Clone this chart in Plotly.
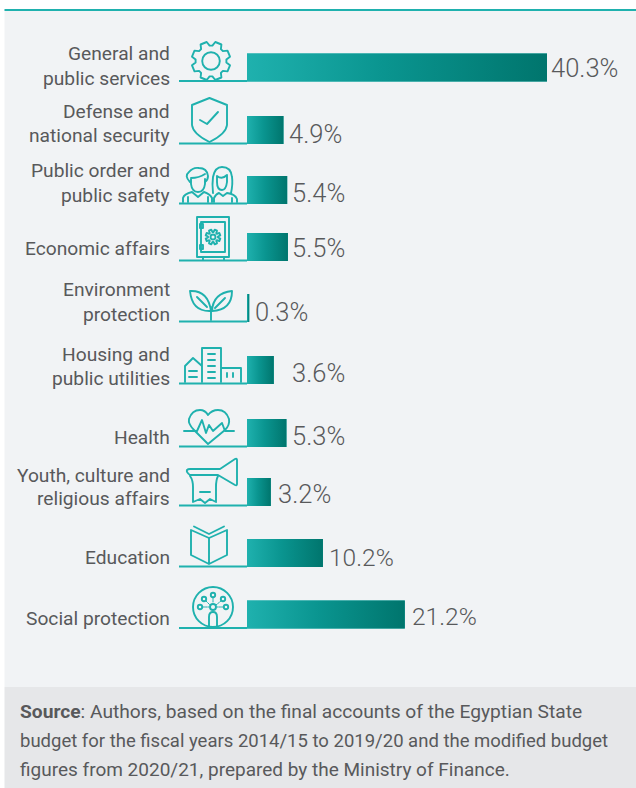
import base64
import math
import plotly.graph_objects as go

# ---------- data ----------
categories = ["General and<br>public services", "Defense and<br>national security",
              "Public order and<br>public safety", "Economic affairs",
              "Environment<br>protection", "Housing and<br>public utilities", "Health",
              "Youth, culture and<br>religious affairs", "Education", "Social protection"]
values = [40.3, 4.9, 5.4, 5.5, 0.3, 3.6, 5.3, 3.2, 10.2, 21.2]
value_labels = ["40.3%", "4.9%", "5.4%", "5.5%", "0.3%", "3.6%", "5.3%", "3.2%", "10.2%", "21.2%"]
source_lines = ["<b>Source</b>: Authors, based on the final accounts of the Egyptian State",
                "budget for the fiscal years 2014/15 to 2019/20 and the modified budget",
                "figures from 2020/21, prepared by the Ministry of Finance."]

# ---------- layout constants (page pixels) ----------
W, H = 636, 788
BAR_X0 = 247
PX_PER_UNIT = 300 / 40.3
ROW_Y = [67.5, 130, 190, 247, 308, 370, 433, 492, 553, 614.5]
BAR_H = 28
LABEL_Y = [[53, 78], [111, 135], [170, 195], [248], [289, 314], [354, 378], [437], [475, 498], [557], [618]]
VALUE_X = [552, 290, 292.5, 292.5, 255.5, 292.5, 292.5, 279, 330, 413]
VALUE_Y = [68, 134, 193, 248, 312, 373, 436, 494, 557, 616]
VALUE_SIZE = [25.5, 25.5, 25.5, 25.5, 25.5, 25.5, 25.5, 25.5, 24.5, 24.5]
SOURCE_Y = [711, 740.5, 769]
SOURCE_SIZE = [19.2, 18.5, 19.0]
TEAL, DARK, GREY = "#1fb1ae", "#00756d", "#58595b"
FONT = "Roboto"


def px_x(px):
    return (px - BAR_X0) / PX_PER_UNIT


def gear(cx, cy, r_in, r_out, hole):
    pts = []
    for i in range(8):
        a = i * math.pi / 4 - math.pi / 8
        for da, r in [(-0.30, r_in), (-0.17, r_out), (0.17, r_out), (0.30, r_in)]:
            pts.append(f"{cx + r * math.cos(a + da):.1f} {cy + r * math.sin(a + da):.1f}")
    return f'<path d="M{" L".join(pts)}Z"/><circle cx="{cx}" cy="{cy}" r="{hole}"/>'


ICONS = [
    gear(211, 61, 15.5, 19.5, 8.8),
    '<path d="M209.5 98 L227 105 V125 Q226 134 209.5 142 Q193 134 192 125 V105Z"/><path d="M200 120 L207 124 L218 112"/>',
    '<path d="M190 182 Q184 176 189 172 Q193 167 199 168 Q207 168 208 176 Q208 180 205 182"/>'
    '<path d="M191 179 V184 Q192 192 198 192 Q204 192 205 184 V179 M191 178 Q199 178 205 174"/>'
    '<path d="M183 202 V198 Q184 194 192 192 L198 197 L204 192 Q210 194 212 198 V202 M188 202 V197 M208 202 V197"/>'
    '<path d="M213 193 Q212 184 213 177 Q215 167 222 167 Q231 167 232 177 Q233 184 231 193"/>'
    '<path d="M217 176 Q222 180 227 175 V182 Q226 190 222 190 Q217 190 217 182 Z"/>'
    '<path d="M214 202 V198 Q216 194 219 193 L223 196 L227 193 Q235 194 237 199 V202 M232 202 V198"/>',
    '<rect x="197" y="217" width="32" height="40"/><rect x="201" y="222" width="24" height="30"/>'
    + gear(213, 237, 5, 7.5, 2.5) +
    '<rect x="200" y="224" width="3" height="4"/><rect x="200" y="245" width="3" height="4"/>'
    '<path d="M203 257 V260 M224 257 V260"/>',
    '<path d="M211 311 Q192 312 190 291 Q208 290 211 311Z M197 297 L207 307"/>'
    '<path d="M212 311 Q213 293 232 291 Q232 310 212 311Z M225 298 L215 308"/><path d="M211 307 V320"/>',
    '<path d="M185 382 V366 L193 358 L202 366 V382 M202 382 V348 H221 V382 M221 368 H241 V382"/>'
    '<path d="M189 371 H197 M189 377 H197 M208 354 H215 M208 360 H215 M208 366 H215 M208 372 H215 M208 378 H215 M227 373 V377 M233 373 V377"/>',
    '<path d="M208 444 L194 430 Q188 424 189 419 Q192 410 200 410 Q205 410 208 415 Q212 410 218 410 Q226 410 229 419 Q230 425 225 430 Z"/>'
    '<path d="M184 431 H197 L202 420 L206 433 L209 425 L213 431 L222 423 L225 431 H234"/>',
    '<path d="M220 469 L235 459 Q237 458 237 460 V484 Q237 486 235 485 L218 475 H190 Q186 472 187 470 Q188 469 190 469 Z"/>'
    '<path d="M190 476 Q193 480 193 487 V502 L200 499 L205 503 L210 499 L216 502 V487 Q216 480 218 476 M200 492 H210"/>',
    '<path d="M191 530 L209 538 L227 530 V555 L209 564 L191 555Z M209 538 V564 M194 526.5 L209 534 L224 526.5"/>',
    '<circle cx="213" cy="607" r="20"/><circle cx="213" cy="607" r="3"/>'
    '<circle cx="200" cy="607" r="2.2"/><circle cx="204" cy="599" r="2.2"/><circle cx="213" cy="595" r="2.2"/>'
    '<circle cx="223" cy="599" r="2.2"/><circle cx="226" cy="607" r="2.2"/>'
    '<path d="M203 607 H209 M206 601 L210 605 M213 598 V603 M221 601 L216 605 M223 607 H217" stroke-dasharray="1.5 1" stroke-width="1"/>'
    '<path d="M209 627 V617 Q209 612 213 612 Q217 612 217 617 V627"/>',
]


def svg_uri():
    body = "".join(ICONS)
    svg = (f'<svg xmlns="http://www.w3.org/2000/svg" width="{W}" height="{H}" viewBox="0 0 {W} {H}">'
           f'<g fill="none" stroke="{TEAL}" stroke-width="1.9" stroke-linejoin="round" stroke-linecap="round">{body}</g></svg>')
    return "data:image/svg+xml;base64," + base64.b64encode(svg.encode()).decode()


fig = go.Figure()
fig.add_trace(go.Bar(x=values, y=ROW_Y, orientation="h", width=BAR_H, marker=dict(color=TEAL, line_width=0),
                     customdata=categories, hoverinfo="skip", showlegend=False))
for v, y in zip(values, ROW_Y):
    fig.add_trace(go.Scatter(x=[0, v, v, 0, 0], y=[y - BAR_H / 2, y - BAR_H / 2, y + BAR_H / 2, y + BAR_H / 2, y - BAR_H / 2],
                             mode="none", fill="toself", showlegend=False, hoverinfo="skip",
                             fillgradient=dict(type="horizontal", colorscale=[[0, "#1fb1ae"], [0.45, "#0a9590"], [1, DARK]])))

shapes = [
    dict(type="rect", xref="paper", yref="paper", x0=4.5 / W, x1=1, y0=1 - 687 / H, y1=1 - 10 / H,
         fillcolor="#f1f3f5", line_width=0, layer="below"),
    dict(type="rect", xref="paper", yref="paper", x0=4.5 / W, x1=1, y0=0, y1=1 - 687 / H,
         fillcolor="#e6e7e9", line_width=0, layer="below"),
    dict(type="rect", xref="paper", yref="paper", x0=4.5 / W, x1=1, y0=1 - 11 / H, y1=1 - 9 / H,
         fillcolor=TEAL, line_width=0, layer="below"),
]
for y in ROW_Y:
    shapes.append(dict(type="line", xref="x", yref="y", x0=px_x(179), x1=0, y0=y + BAR_H / 2 - 0.5, y1=y + BAR_H / 2 - 0.5,
                       line=dict(color=TEAL, width=2), layer="below"))

annotations = []
for cat, ys in zip(categories, LABEL_Y):
    for line, y in zip(cat.split("<br>"), ys):
        annotations.append(dict(x=px_x(172), y=y, xref="x", yref="y", text=line, showarrow=False, xanchor="right",
                                yanchor="middle", font=dict(family=FONT, size=19.2, color=GREY)))
for lab, x, y, size in zip(value_labels, VALUE_X, VALUE_Y, VALUE_SIZE):
    annotations.append(dict(x=px_x(x - 3), y=y, xref="x", yref="y", text=lab, showarrow=False, xanchor="left",
                            yanchor="middle", font=dict(family=FONT, size=size, color=GREY, weight=300)))
for line, y, size in zip(source_lines, SOURCE_Y, SOURCE_SIZE):
    annotations.append(dict(x=18 / W, y=1 - y / H, xref="paper", yref="paper", text=line, showarrow=False, xanchor="left",
                            yanchor="middle", font=dict(family=FONT, size=size, color=GREY)))

fig.update_layout(
    width=W, height=H, margin=dict(l=0, r=0, t=0, b=0), paper_bgcolor="white", plot_bgcolor="rgba(0,0,0,0)",
    xaxis=dict(range=[px_x(0), px_x(W)], visible=False, fixedrange=True),
    yaxis=dict(range=[H, 0], visible=False, fixedrange=True),
    shapes=shapes, annotations=annotations, showlegend=False,
    images=[dict(source=svg_uri(), xref="paper", yref="paper", x=0, y=1, sizex=1, sizey=1,
                 xanchor="left", yanchor="top", sizing="stretch", layer="above")],
)
fig.write_html("out.html", config={"displayModeBar": False}, post_script="document.body.style.margin='0';")
